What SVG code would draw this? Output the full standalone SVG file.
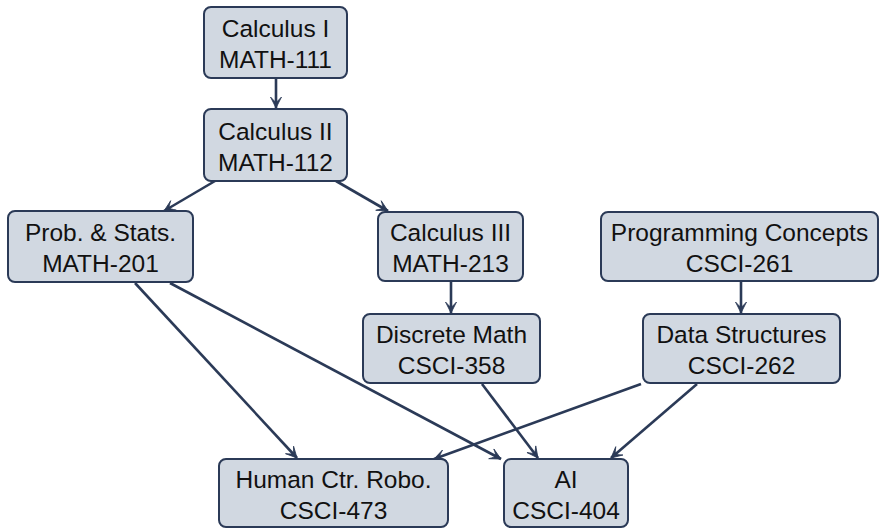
<svg xmlns="http://www.w3.org/2000/svg" width="880" height="529" viewBox="0 0 880 529">
<defs>
<marker id="arr" viewBox="-12 -7 14 14" markerWidth="14" markerHeight="14" refX="0" refY="0" orient="auto" markerUnits="userSpaceOnUse">
<path d="M0,0 L-11,-5.5 Q-6,-1 -6,0 Q-6,1 -11,5.5 Z" fill="#2b3a57" stroke="#2b3a57" stroke-width="0.8" stroke-linejoin="round"/>
</marker>
<style>
.box{fill:#d1d8e1;stroke:#2b3a57;stroke-width:2}
.t{font-family:"Liberation Sans",Arial,sans-serif;font-size:24.5px;fill:#111;text-anchor:middle}
.e{fill:none;stroke:#2b3a57;stroke-width:2.6;marker-end:url(#arr)}
</style>
</defs>
<g id="connectors">
<line class="e" x1="276" y1="78" x2="276" y2="108"/>
<line class="e" x1="215" y1="181" x2="164" y2="211"/>
<line class="e" x1="336" y1="181" x2="388" y2="211"/>
<line class="e" x1="135" y1="283" x2="297" y2="458"/>
<line class="e" x1="170" y1="283" x2="501" y2="459"/>
<line class="e" x1="451" y1="281" x2="451" y2="313"/>
<line class="e" x1="741" y1="281" x2="741" y2="313"/>
<line class="e" x1="482" y1="384" x2="538" y2="458"/>
<line class="e" x1="641" y1="384" x2="434" y2="459"/>
<line class="e" x1="697" y1="384" x2="611" y2="458"/>
</g>
<g id="calc1"><rect class="box" x="204" y="7" width="143" height="71" rx="7"/><text class="t" x="275.5" y="37">Calculus I</text><text class="t" x="275.5" y="68">MATH-111</text></g>
<g id="calc2"><rect class="box" x="204" y="109" width="143" height="72" rx="7"/><text class="t" x="275.5" y="140">Calculus II</text><text class="t" x="275.5" y="171">MATH-112</text></g>
<g id="prob"><rect class="box" x="8" y="211" width="185" height="71" rx="7"/><text class="t" x="100.5" y="241">Prob. &amp; Stats.</text><text class="t" x="100.5" y="272">MATH-201</text></g>
<g id="calc3"><rect class="box" x="378" y="212" width="145" height="69" rx="7"/><text class="t" x="450.5" y="241">Calculus III</text><text class="t" x="450.5" y="272">MATH-213</text></g>
<g id="prog"><rect class="box" x="601" y="212" width="277" height="69" rx="7"/><text class="t" x="739.5" y="241">Programming Concepts</text><text class="t" x="739.5" y="272">CSCI-261</text></g>
<g id="disc"><rect class="box" x="363" y="314" width="177" height="69" rx="7"/><text class="t" x="451.5" y="343">Discrete Math</text><text class="t" x="451.5" y="374">CSCI-358</text></g>
<g id="ds"><rect class="box" x="643" y="314" width="197" height="69" rx="7"/><text class="t" x="741.5" y="343">Data Structures</text><text class="t" x="741.5" y="374">CSCI-262</text></g>
<g id="hcr"><rect class="box" x="219" y="459" width="229" height="68" rx="7"/><text class="t" x="333.5" y="488">Human Ctr. Robo.</text><text class="t" x="333.5" y="519">CSCI-473</text></g>
<g id="ai"><rect class="box" x="504" y="459" width="124" height="68" rx="7"/><text class="t" x="566" y="488">AI</text><text class="t" x="566" y="519">CSCI-404</text></g>
</svg>
